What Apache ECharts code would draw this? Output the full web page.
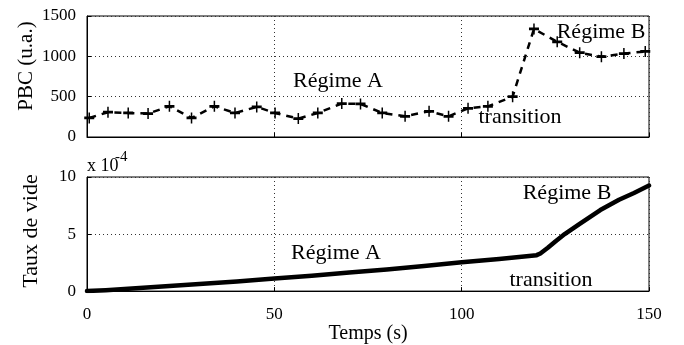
<!DOCTYPE html>
<html>
<head>
<meta charset="utf-8">
<script src="https://cdn.jsdelivr.net/npm/echarts@6/dist/echarts.min.js"></script>
<style>
  html, body { margin: 0; padding: 0; background: #fff; }
  #chart { width: 684px; height: 345px; }
</style>
</head>
<body>
<div id="chart"></div>
<script>
// PBC (u.a.) mesuré, marqueurs '+'
var pbcTemps = [0.6, 5.6, 11, 16.3, 22, 27.9, 34, 39.5, 45.3, 50.2, 56.4, 61.6, 68, 73, 78.8, 84.9, 91.3, 96.5, 101.7, 107, 113.6, 119.3, 125.5, 131.5, 137.3, 143.3, 149];
var pbcValeurs = [236, 307, 298, 290, 381, 236, 381, 298, 373, 298, 228, 298, 414, 410, 298, 257, 319, 257, 355, 380, 500, 1340, 1180, 1045, 995, 1035, 1060];

// taux de vide, en unites de 1e-4
var videTemps = [0, 5, 10, 20, 30, 40, 50, 60, 70, 80, 90, 100, 110, 120, 121, 123, 125, 127.5, 131.5, 137, 142, 146, 150];
var videValeurs = [0, 0.08, 0.18, 0.4, 0.62, 0.85, 1.1, 1.35, 1.62, 1.9, 2.2, 2.52, 2.82, 3.15, 3.3, 3.8, 4.35, 5.0, 5.9, 7.1, 8.0, 8.6, 9.25];

var ticksTemps = [0, 50, 100, 150];
var ticksPbc = [0, 500, 1000, 1500];
var ticksVide = [0, 5, 10];

var police = 'Liberation Serif';
// croix '+' : branche horizontale plus epaisse
var plus = 'path://M-0.15,-1 L0.15,-1 L0.15,-0.25 L1,-0.25 L1,0.25 L0.15,0.25 L0.15,1 L-0.15,1 L-0.15,0.25 L-1,0.25 L-1,-0.25 L-0.15,-0.25 Z';

function zip(a, b) {
  return a.map(function (x, i) { return [x, b[i]]; });
}

var pointille = { show: true, lineStyle: { color: '#333', width: 1, type: [1, 3] } };
var etiq = { color: '#000', fontFamily: police, fontSize: 17, formatter: function (v) { return String(v); } };

function axeX(idx, labels) {
  return {
    type: 'value', gridIndex: idx,
    min: ticksTemps[0], max: ticksTemps[ticksTemps.length - 1], interval: 50,
    axisLine: { show: true, lineStyle: { color: '#000', width: 1 } },
    axisTick: { show: true, inside: true, length: 4, lineStyle: { color: '#000' } },
    axisLabel: Object.assign({ show: labels, margin: 15 }, etiq),
    splitLine: pointille,
    name: labels ? 'Temps (s)' : '',
    nameLocation: 'middle', nameGap: 23,
    nameTextStyle: { color: '#000', fontFamily: police, fontSize: 20 }
  };
}

function axeY(idx, ticks, inter) {
  return {
    type: 'value', gridIndex: idx,
    min: ticks[0], max: ticks[ticks.length - 1], interval: inter,
    axisLine: { show: true, lineStyle: { color: '#000', width: 1 } },
    axisTick: { show: true, inside: true, length: 4, lineStyle: { color: '#000' } },
    axisLabel: Object.assign({ margin: 11 }, etiq),
    splitLine: pointille
  };
}

function texte(x, y, s, taille, rot) {
  return {
    type: 'text', x: x, y: y, rotation: rot || 0, silent: true,
    style: { text: s, fill: '#000', font: taille + 'px "' + police + '"', textAlign: 'center', textVerticalAlign: 'middle' }
  };
}

var myChart = echarts.init(document.getElementById('chart'));
myChart.setOption({
  animation: false,
  backgroundColor: '#fff',
  grid: [
    { left: 87, right: 35, top: 16, height: 121, show: true, borderColor: '#000', borderWidth: 1 },
    { left: 87, right: 35, top: 177, height: 121, show: true, borderColor: '#000', borderWidth: 1 }
  ],
  xAxis: [axeX(0, false), axeX(1, true)],
  yAxis: [axeY(0, ticksPbc, 500), axeY(1, ticksVide, 5)],
  series: [
    {
      type: 'line', xAxisIndex: 0, yAxisIndex: 0,
      data: zip(pbcTemps, pbcValeurs),
      symbol: plus, symbolSize: [10, 11], showAllSymbol: true,
      itemStyle: { color: '#000' },
      lineStyle: { color: '#000', width: 2.5, type: [7, 6] }
    },
    {
      type: 'line', xAxisIndex: 1, yAxisIndex: 1,
      data: zip(videTemps, videValeurs),
      showSymbol: false,
      lineStyle: { color: '#000', width: 4.5, cap: 'round', join: 'round' }
    }
  ],
  graphic: [
    texte(26, 66, 'PBC (u.a.)', 21, Math.PI / 2),
    texte(31, 231, 'Taux de vide', 22, Math.PI / 2),
    texte(338, 81, 'Régime A', 22),
    texte(601, 32, 'Régime B', 22),
    texte(520, 117, 'transition', 22),
    texte(336, 253, 'Régime A', 22),
    texte(567, 193, 'Régime B', 22),
    texte(551, 280, 'transition', 22),
    {
      type: 'text', x: 87, y: 166, silent: true,
      style: { text: 'x 10', fill: '#000', font: '18px "' + police + '"', textAlign: 'left', textVerticalAlign: 'middle' }
    },
    {
      type: 'text', x: 115, y: 157, silent: true,
      style: { text: '-4', fill: '#000', font: '15px "' + police + '"', textAlign: 'left', textVerticalAlign: 'middle' }
    }
  ]
});
</script>
</body>
</html>
